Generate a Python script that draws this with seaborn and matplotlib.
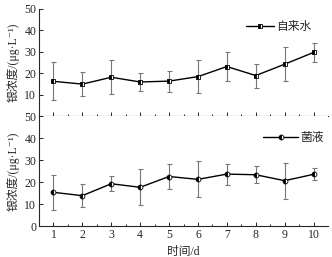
import matplotlib
matplotlib.use("Agg")
import matplotlib.pyplot as plt
import seaborn as sns
import numpy as np
import pandas as pd

days = [1, 2, 3, 4, 5, 6, 7, 8, 9, 10]

# 自来水
tap_mean = [16.2, 14.9, 18.1, 15.9, 16.3, 18.4, 23.1, 18.9, 24.2, 29.7]
tap_err = [8.8, 5.5, 8.0, 4.0, 4.9, 7.6, 6.8, 5.6, 7.9, 4.3]

# 菌液
bac_mean = [15.3, 13.8, 19.2, 17.6, 22.5, 21.2, 23.6, 23.3, 20.6, 23.5]
bac_err = [7.9, 5.3, 3.5, 8.2, 5.9, 8.2, 4.8, 3.8, 8.2, 2.7]

sns.set_theme(style="ticks")
fonts = ["Liberation Serif", "Noto Sans CJK SC", "DejaVu Serif"]
plt.rcParams["font.family"] = fonts
plt.rcParams["axes.linewidth"] = 0.8

fig = plt.figure(figsize=(3.32, 2.57), dpi=100)
ax_top = fig.add_axes([0.1175, 0.5486, 0.8705, 0.4165])
ax_bot = fig.add_axes([0.1175, 0.1206, 0.8705, 0.428])

panels = [
    (ax_top, tap_mean, tap_err, "s", "自来水", (0.715, 0.83), 2.4),
    (ax_bot, bac_mean, bac_err, "o", "菌液", (0.775, 0.80), 3.0),
]

for ax, mean, err, mk, name, anchor, hl in panels:
    df = pd.DataFrame({"day": days, "value": mean})
    ax.errorbar(days, mean, yerr=err, fmt="none", ecolor="#777777",
                elinewidth=0.8, capsize=1.8, capthick=0.8, zorder=1)
    sns.lineplot(data=df, x="day", y="value", ax=ax, color="black",
                 linewidth=1.0, marker=mk, markersize=3.5, fillstyle="left",
                 markerfacecoloralt="white", markeredgecolor="black",
                 markeredgewidth=0.6, label=name, zorder=3)
    ax.set_xlim(0.5, 10.5)
    ax.set_ylim(0, 50)
    ax.set_yticks([0, 10, 20, 30, 40, 50])
    ax.set_xticks(days)
    ax.set_xticks(np.arange(1.5, 10.5, 1), minor=True)
    ax.tick_params(axis="both", which="both", direction="in", labelsize=8.5,
                   length=3, width=0.7, pad=2)
    ax.tick_params(axis="x", which="minor", length=1.8)
    sns.despine(ax=ax)
    ax.set_xlabel("")
    ax.set_ylabel("银浓度/(μg·L⁻¹)", fontsize=8.5, labelpad=3)
    ax.legend(loc="center left", frameon=False, fontsize=8.5,
              handlelength=hl, handletextpad=0.2, borderpad=0,
              borderaxespad=0, bbox_to_anchor=anchor)

ax_top.set_xticklabels([])
ax_top.set_yticklabels(["", "10", "20", "30", "40", "50"])
ax_bot.set_xlabel("时间/d", fontsize=8.5, labelpad=4)

fig.savefig("out.png", dpi=100)
